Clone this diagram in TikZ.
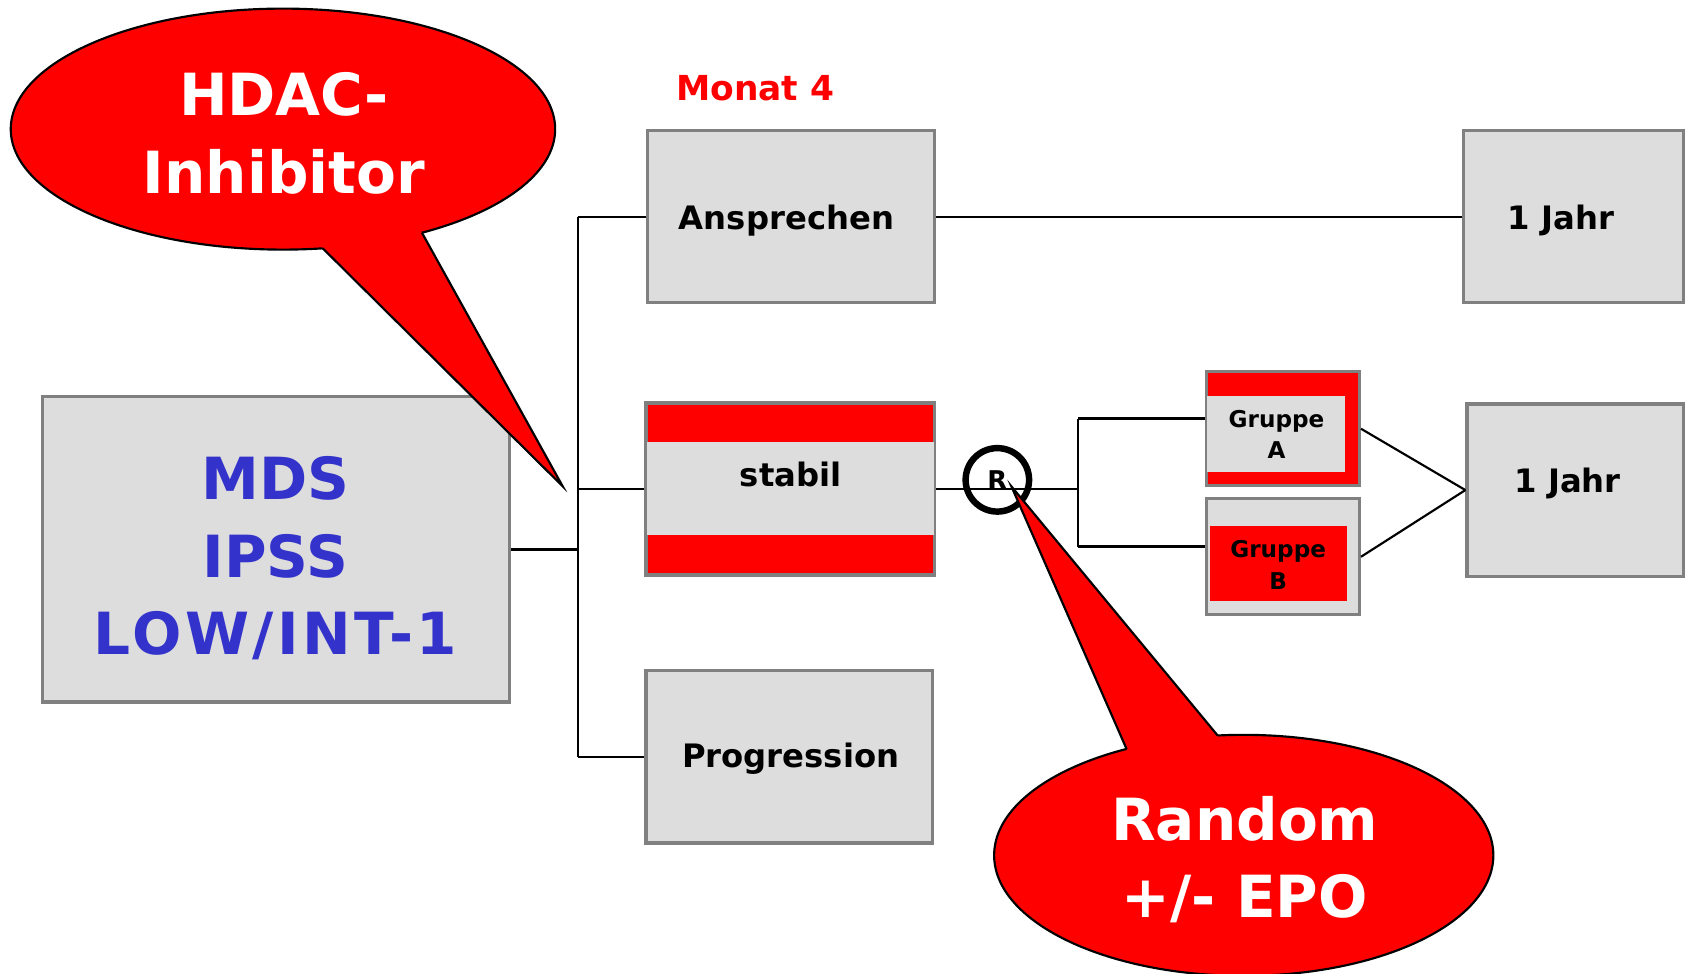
\documentclass[tikz,border=0pt]{standalone}
\usepackage{fontspec}
\setmainfont{DejaVu Sans}
\usetikzlibrary{calc}
\definecolor{boxgray}{HTML}{DDDDDD}
\definecolor{bordergray}{HTML}{808080}
\definecolor{mdsblue}{HTML}{3333CC}
\definecolor{myred}{HTML}{FF0000}
\begin{document}
\begin{tikzpicture}[x=1pt,y=-1pt,
  box/.style={draw=bordergray, line width=3pt, fill=boxgray, inner sep=0pt},
  redbox/.style={draw=bordergray, line width=3pt, fill=myred, inner sep=0pt},
  boxtext/.style={font=\bfseries\fontsize{30}{36}\selectfont, text=black, inner sep=0pt},
  smalltext/.style={font=\bfseries\fontsize{21.5}{29}\selectfont, text=black, align=center, inner sep=0pt},
  conn/.style={line width=2pt, black},
  bubble/.style={fill=myred, draw=black, line width=2pt},
  tailedge/.style={draw=black, line width=2pt, line join=miter},
  bubbletext/.style={font=\bfseries\fontsize{54}{72}\selectfont, text=white, align=center, inner sep=0pt}
]
\useasboundingbox (0,0) rectangle (1568,905);

% boxes
\node[box, minimum width=434pt, minimum height=284pt] (mds) at (256.5,510.5) {};
\node[font=\bfseries\fontsize{54}{72}\selectfont, text=mdsblue, align=center, inner sep=0pt] (mdstext) at (256,519) {MDS\\IPSS\\{\addfontfeatures{LetterSpace=6}LOW/INT-1}};

\node[font=\bfseries\fontsize{32}{38}\selectfont, text=myred, inner sep=0pt] (monat) at (702,82) {Monat 4};

\node[box, minimum width=267pt, minimum height=160pt] (ansp) at (735,201.5) {};
\node[boxtext] (ansptext) at (731,205) {Ansprechen};

\node[box, minimum width=204pt, minimum height=160pt] (jahr1) at (1462.5,201.5) {};
\node[boxtext] (jahr1text) at (1451,205) {1 Jahr};

\node[redbox, minimum width=268pt, minimum height=160pt] (stabil) at (734.5,454.5) {};
\fill[boxgray] (601,411) rectangle (868,497);
\node[boxtext] (stabiltext) at (735,441) {stabil};

\node[box, minimum width=266pt, minimum height=160pt] (prog) at (733.5,703.5) {};
\node[boxtext] (progtext) at (735,705) {Progression};

\node[redbox, minimum width=142pt, minimum height=106pt] (gA) at (1192.5,398.5) {};
\fill[boxgray] (1122,368) rectangle (1250,439);
\node[smalltext] (gAtext) at (1186.5,404) {Gruppe\\A};

\node[box, minimum width=142pt, minimum height=108pt] (gB) at (1192.5,517.5) {};
\fill[myred] (1125,489) rectangle (1252,559);
\node[smalltext] (gBtext) at (1188,525) {Gruppe\\B};

\node[box, minimum width=201pt, minimum height=160pt] (jahr2) at (1464,455.5) {};
\node[boxtext] (jahr2text) at (1457,449) {1 Jahr};

% connectors
\coordinate (trunk) at (537,0);
\coordinate (split) at (1002,0);
\draw[conn, line width=2.8pt] (mds.east) -- (mds.east -| trunk);
\draw[conn] (ansp.west -| trunk) -- (prog.west -| trunk);
\draw[conn] (ansp.west -| trunk) -- (ansp.west);
\draw[conn] (stabil.west -| trunk) -- (stabil.west);
\draw[conn] (prog.west -| trunk) -- (prog.west);
\draw[conn] (ansp.east) -- (jahr1.west);
\draw[conn] (stabil.east) -- (stabil.east -| split);
\coordinate (gAin) at ([yshift=9.5pt]gA.west);
\coordinate (gBin) at ([yshift=9.5pt]gB.west);
\draw[conn] (gAin -| split) -- (gBin -| split);
\draw[conn] (gAin -| split) -- (gAin);
\draw[conn] (gBin -| split) -- (gBin);
\draw[conn] (gA.east) -- (jahr2.west);
\draw[conn] (gB.east) -- (jahr2.west);

\node[circle, draw=black, line width=6pt, minimum size=59pt, inner sep=0pt,
  font=\bfseries\fontsize{24}{28}\selectfont] (r) at (927,446) {\raisebox{-6pt}{R}};

% HDAC callout
\coordinate (hc) at (263,120);
\coordinate (htip) at (523,452);
\coordinate (hb1) at ($(hc)+(81.6:253 and 112)$);
\coordinate (hb2) at ($(hc)+(59.3:253 and 112)$);
\draw[bubble] (hc) ellipse [x radius=253pt, y radius=112pt];
\fill[myred] (hb1) -- (htip) -- (hb2) -- (hc) -- cycle;
\draw[tailedge] (hb1) -- (htip) -- (hb2);
\node[bubbletext] (hdac) at (264,124) {HDAC-\\Inhibitor};

% Random callout
\coordinate (rc) at (1156,795);
\coordinate (rtip) at (940,452);
\coordinate (rb1) at ($(rc)+(-118:232 and 112)$);
\coordinate (rb2) at ($(rc)+(-96:232 and 112)$);
\draw[bubble] (rc) ellipse [x radius=232pt, y radius=112pt];
\fill[myred] (rb1) -- (rtip) -- (rb2) -- (rc) -- cycle;
\draw[tailedge] (rb1) -- (rtip) -- (rb2);
\node[bubbletext] (random) at (1157,799) {Random\\+/- EPO};
\end{tikzpicture}
\end{document}
